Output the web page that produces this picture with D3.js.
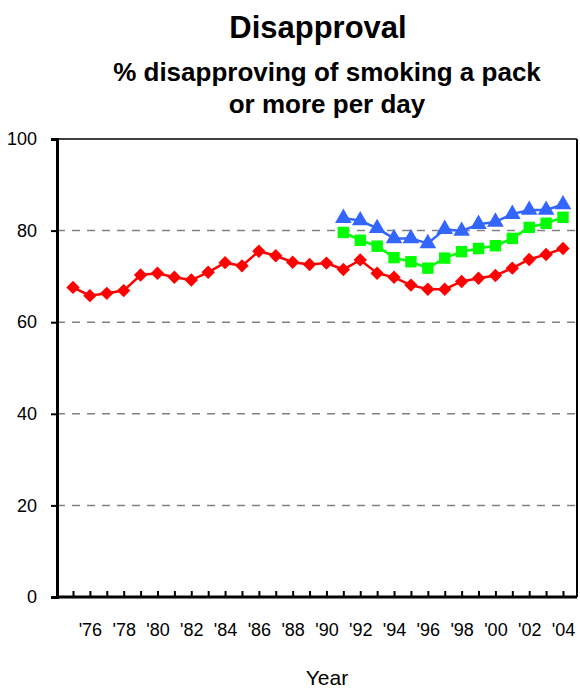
<!DOCTYPE html>
<html>
<head>
<meta charset="utf-8">
<script src="https://cdn.jsdelivr.net/npm/d3@7"></script>
<style>
  body { margin: 0; background: #fff; }
  text { font-family: "Liberation Sans", Arial, sans-serif; }
</style>
</head>
<body>
<div id="chart"></div>
<script>
// Données
const years = d3.range(1975, 2005);
const yearsLate = d3.range(1991, 2005);

const redValues = [67.6, 65.8, 66.3, 66.9, 70.3, 70.7, 69.8, 69.2, 70.9, 73.0,
                   72.3, 75.5, 74.5, 73.1, 72.6, 72.9, 71.5, 73.6, 70.7, 69.8,
                   68.1, 67.2, 67.2, 68.9, 69.6, 70.2, 71.8, 73.7, 74.8, 76.1];
const greenValues = [79.6, 77.9, 76.6, 74.1, 73.2, 71.8, 74.0, 75.4, 76.1, 76.7,
                     78.3, 80.7, 81.6, 82.9];
const blueValues = [82.7, 82.2, 80.5, 78.3, 78.3, 77.2, 80.3, 79.9, 81.4, 81.9,
                    83.6, 84.5, 84.5, 85.7];

const yTicks = [0, 20, 40, 60, 80, 100];
const xLabelYears = d3.range(1976, 2005, 2);

function createChart() {
    const width = 580;
    const height = 688;
    const plot = { left: 57, right: 577, top: 139, bottom: 597 };

    const svg = d3.select("#chart").append("svg")
        .attr("width", width)
        .attr("height", height);

    // Titres
    svg.append("text")
        .attr("x", 318).attr("y", 38)
        .attr("text-anchor", "middle")
        .style("font-size", "31px").style("font-weight", "bold")
        .text("Disapproval");
    svg.append("text")
        .attr("x", 327).attr("y", 81)
        .attr("text-anchor", "middle")
        .style("font-size", "26px").style("font-weight", "bold")
        .text("% disapproving of smoking a pack");
    svg.append("text")
        .attr("x", 327).attr("y", 113)
        .attr("text-anchor", "middle")
        .style("font-size", "26px").style("font-weight", "bold")
        .text("or more per day");

    // Échelles
    const x = d3.scaleLinear()
        .domain([1975, 2004])
        .range([73, 563]);
    const y = d3.scaleLinear()
        .domain([0, 100])
        .range([plot.bottom, plot.top]);

    // Grille pointillée
    svg.selectAll(".grid")
        .data(yTicks.filter(t => t > 0 && t < 100))
        .enter().append("line")
        .attr("x1", plot.left).attr("x2", plot.right)
        .attr("y1", d => y(d)).attr("y2", d => y(d))
        .attr("stroke", "#808080")
        .attr("stroke-width", 1.5)
        .attr("stroke-dasharray", "8,7");

    // Cadre haut et droit
    svg.append("line")
        .attr("x1", plot.left).attr("x2", plot.right)
        .attr("y1", plot.top).attr("y2", plot.top)
        .attr("stroke", "#000").attr("stroke-width", 1.5);
    svg.append("line")
        .attr("x1", plot.right).attr("x2", plot.right)
        .attr("y1", plot.top).attr("y2", plot.bottom)
        .attr("stroke", "#000").attr("stroke-width", 2);

    // Axe Y
    const yAxis = svg.append("g")
        .attr("transform", `translate(${plot.left},0)`)
        .call(d3.axisLeft(y).tickValues(yTicks).tickSize(6).tickPadding(14));
    yAxis.select(".domain").attr("stroke-width", 3);
    yAxis.selectAll(".tick line").attr("stroke-width", 2);
    yAxis.selectAll(".tick text")
        .style("font-size", "18px")
        .style("font-family", "Liberation Sans, Arial, sans-serif");

    // Axe X
    const xAxis = svg.append("g")
        .attr("transform", `translate(0,${plot.bottom})`)
        .call(d3.axisBottom(x)
            .tickValues(years)
            .tickSize(-6)
            .tickSizeOuter(0)
            .tickFormat(d => xLabelYears.includes(d) ? "'" + String(d).slice(2) : ""));
    xAxis.select(".domain")
        .attr("d", `M${plot.left},0H${plot.right}`)
        .attr("stroke-width", 3);
    xAxis.selectAll(".tick line").attr("stroke-width", 2);
    xAxis.selectAll(".tick text")
        .attr("y", 26)
        .style("font-size", "18px")
        .style("font-family", "Liberation Sans, Arial, sans-serif");

    svg.append("text")
        .attr("x", 327).attr("y", 685)
        .attr("text-anchor", "middle")
        .style("font-size", "21px")
        .text("Year");

    // Séries
    const series = [
        { name: "red", years: years, values: redValues, color: "#ff0000", symbol: d3.symbolSquare, size: 90, rotate: 45 },
        { name: "green", years: yearsLate, values: greenValues, color: "#00ff00", symbol: d3.symbolSquare, size: 130, rotate: 0 },
        { name: "blue", years: yearsLate, values: blueValues, color: "#3366ff", symbol: d3.symbolTriangle, size: 120, rotate: 0 }
    ];

    const line = d3.line()
        .x(d => x(d.year))
        .y(d => y(d.value));

    series.forEach(s => {
        const pts = s.years.map((yr, i) => ({ year: yr, value: s.values[i] }));
        svg.append("path")
            .datum(pts)
            .attr("fill", "none")
            .attr("stroke", s.color)
            .attr("stroke-width", 2.5)
            .attr("d", line);
        svg.selectAll(".pt-" + s.name)
            .data(pts)
            .enter().append("path")
            .attr("class", "pt-" + s.name)
            .attr("transform", d => `translate(${x(d.year)},${y(d.value)}) rotate(${s.rotate})`)
            .attr("d", d3.symbol().type(s.symbol).size(s.size))
            .attr("fill", s.color);
    });
}

createChart();
</script>
</body>
</html>
